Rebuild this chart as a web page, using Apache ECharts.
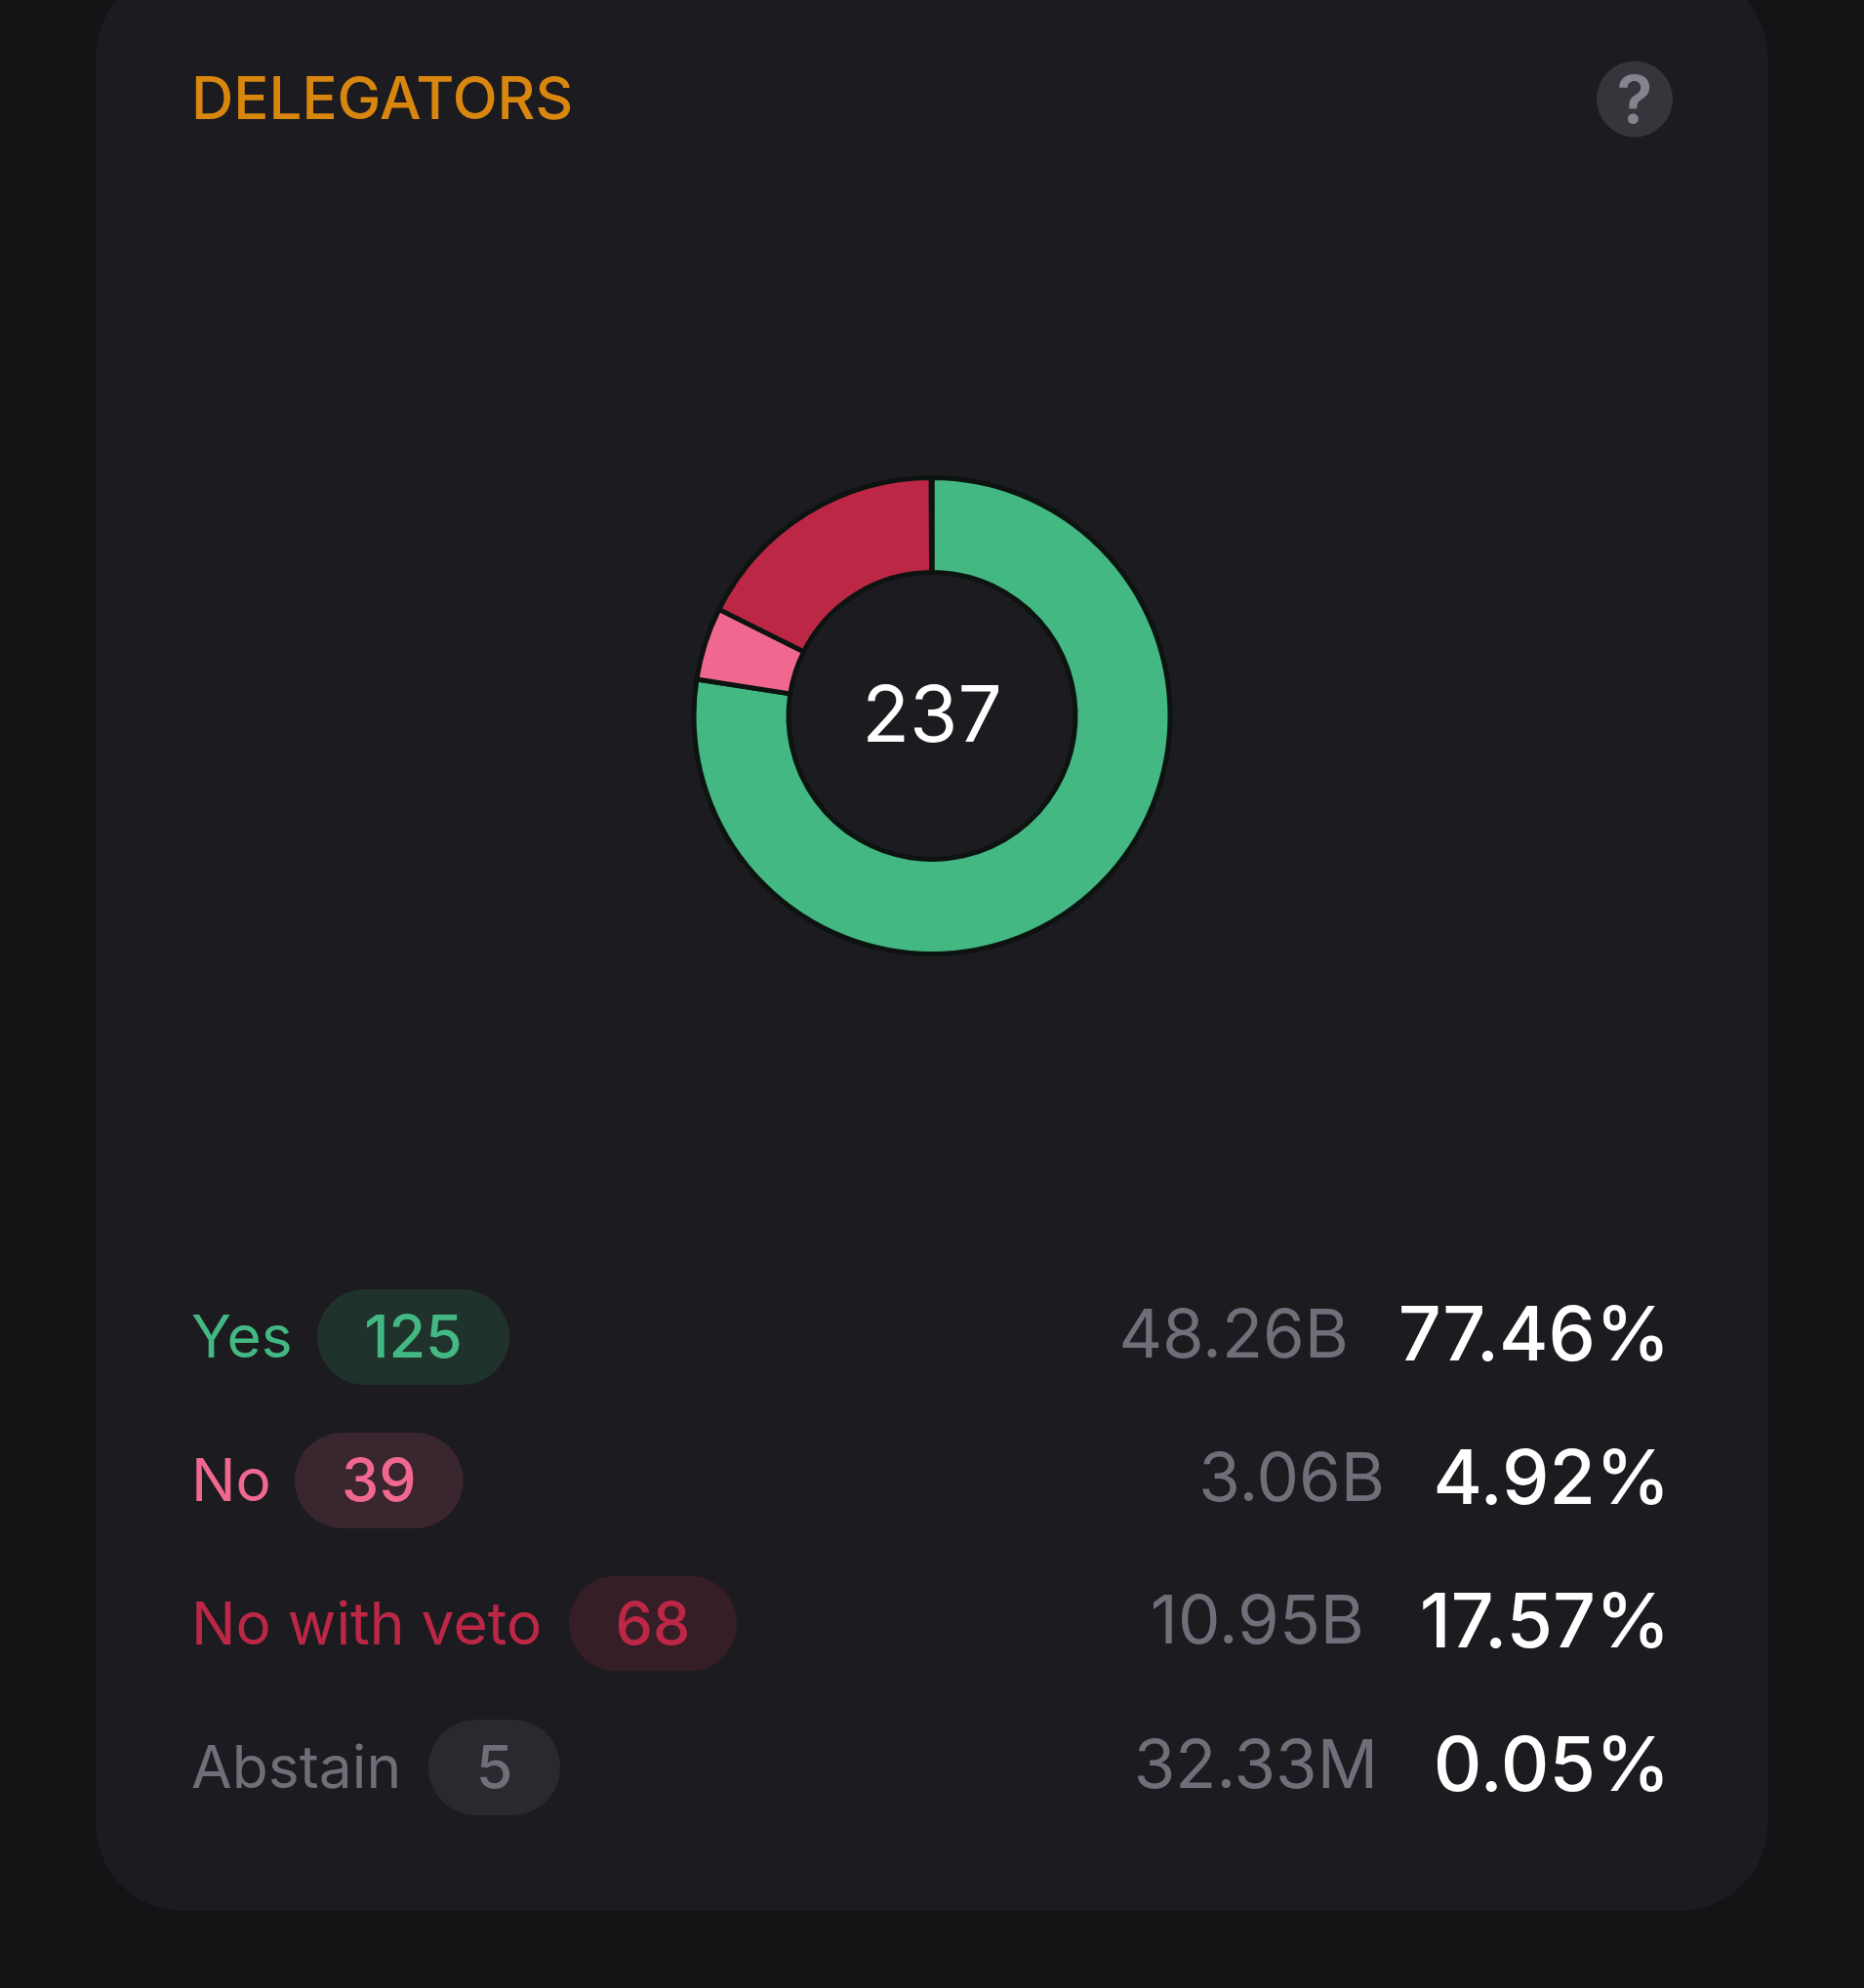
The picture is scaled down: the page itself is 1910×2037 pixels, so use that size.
<!DOCTYPE html>
<html>
<head>
<meta charset="utf-8">
<style>
html,body{margin:0;padding:0;background:#141416;}
#chart{width:1910px;height:2037px;}
</style>
<script src="https://cdn.jsdelivr.net/npm/echarts@6/dist/echarts.min.js"></script>
</head>
<body>
<div id="chart"></div>
<script>
// ---- data ----
var chartTitle = 'DELEGATORS';
var categories = ['Yes', 'No', 'No with veto', 'Abstain'];
var delegatorCounts = [125, 39, 68, 5];
var stakeLabels = ['48.26B', '3.06B', '10.95B', '32.33M'];
var sharePercents = [77.46, 4.92, 17.57, 0.05];

// ---- styles ----
var sliceColors = ['#44b882', '#f0688f', '#bd2746', '#6f6f7a'];
var pillColors = ['#20322c', '#3a262e', '#351e26', '#29292e'];
var FONT = 'Inter, "Noto Sans", sans-serif';

// ---- layout ----
var rowY = [1370, 1517, 1663.5, 1811];
var pillLeft = [325, 302, 583, 439];
var pillRight = [522, 474.5, 755, 574];
var pillH = 98;
var stakeRight = [1382, 1419, 1398, 1412];

function txt(x, y, text, font, fill, align) {
  return {type: 'text', silent: true, style: {
    x: x, y: y, text: text, font: font, fill: fill,
    align: align || 'left', verticalAlign: 'middle'
  }};
}

var total = delegatorCounts.reduce(function (a, b) { return a + b; }, 0);

var elements = [
  {type: 'rect', silent: true, z: -1,
   shape: {x: 98, y: -31, width: 1713.5, height: 1989, r: 90},
   style: {fill: '#1b1b20'}},
  txt(196, 104, chartTitle, '500 60px ' + FONT, '#d9860f'),
  {type: 'circle', silent: true, shape: {cx: 1675, cy: 101.5, r: 39}, style: {fill: '#35353c'}},
  txt(1675, 106, '?', '600 68px ' + FONT, '#84848e', 'center'),
  txt(955, 736, String(total), '400 80px ' + FONT, '#ffffff', 'center')
];

categories.forEach(function (name, i) {
  var y = rowY[i];
  elements.push(txt(196, y + 3, name, '400 60.5px ' + FONT, sliceColors[i]));
  elements.push({type: 'rect', silent: true,
    shape: {x: pillLeft[i], y: y - pillH / 2, width: pillRight[i] - pillLeft[i], height: pillH, r: pillH / 2},
    style: {fill: pillColors[i]}});
  elements.push(txt((pillLeft[i] + pillRight[i]) / 2, y + 3, String(delegatorCounts[i]),
    '500 61px ' + FONT, sliceColors[i], 'center'));
  elements.push(txt(stakeRight[i], y, stakeLabels[i], '400 69px ' + FONT, '#6f6f7a', 'right'));
  elements.push(txt(1711.5, y + 1, sharePercents[i].toFixed(2) + '%', '500 77px ' + FONT, '#ffffff', 'right'));
});

var chart = echarts.init(document.getElementById('chart'), null, {renderer: 'canvas'});
chart.setOption({
  animation: false,
  backgroundColor: '#141416',
  series: [{
    type: 'pie',
    center: [955, 733.5],
    radius: [147, 244],
    startAngle: 90,
    clockwise: true,
    silent: true,
    label: {show: false},
    labelLine: {show: false},
    itemStyle: {borderColor: '#0d1311', borderWidth: 5},
    data: categories.map(function (name, i) {
      return {name: name, value: sharePercents[i], itemStyle: {color: sliceColors[i]}};
    })
  }],
  graphic: {elements: elements}
});
</script>
</body>
</html>
